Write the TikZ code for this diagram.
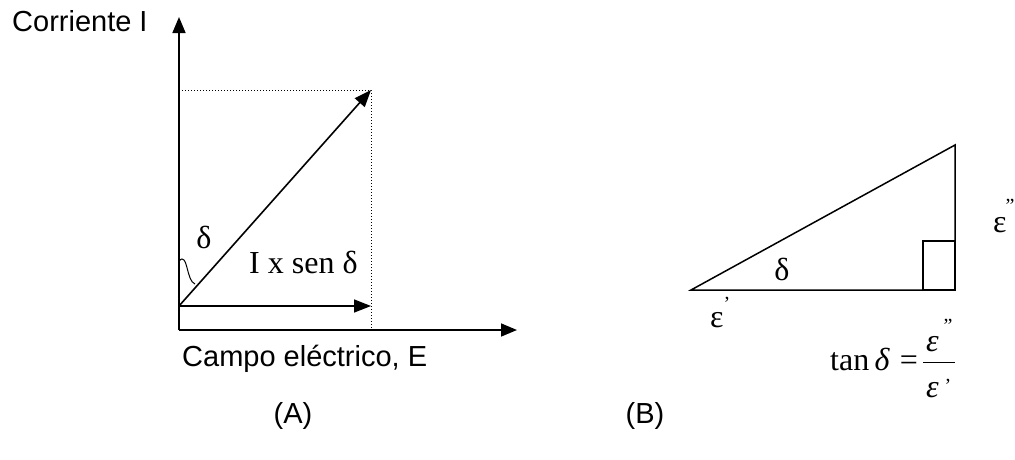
\documentclass[tikz,border=0pt]{standalone}
\usepackage{fontspec}
\setmainfont{Liberation Sans}
\newfontfamily\tnr{Liberation Serif}
\usetikzlibrary{arrows.meta}

\tikzset{
  axis/.style={line width=1.6pt, -{Triangle[length=16pt,width=13pt]}},
  vec/.style={line width=1.6pt, -{Triangle[length=17pt,width=13pt]}},
  guide/.style={line width=1pt, dotted},
  side/.style={line width=1.5pt},
  sanslabel/.style={font=\fontsize{29}{34}\selectfont, inner sep=0pt},
  serlabel/.style={font=\tnr\fontsize{32}{38}\selectfont, inner sep=0pt},
  marks/.style={font=\tnr\fontsize{20}{20}\selectfont, inner sep=0pt}
}

\begin{document}
\begin{tikzpicture}[x=1pt, y=-1pt]

\useasboundingbox (0,0) rectangle (1015,459);

%
% Panel (A)
%

% Axes
\coordinate (corner) at (179,330);
\coordinate (itip) at (179,17);
\coordinate (etip) at (517,330);
\draw[axis] (corner) -- (itip);
\draw[axis] (corner) -- (etip);

\path 
(12,31) node [sanslabel, anchor=base west] (ilabel) {Corriente I};
\path 
(182,366) node [sanslabel, anchor=base west] (elabel) {Campo eléctrico, E};

% Current vector and its projection
\coordinate (orig) at (179,306);
\coordinate (itot) at (371,90);
\coordinate (iproj) at (371,306);
\coordinate (itop) at (179,90);
\coordinate (ibot) at (371,330);

\draw[guide] (itop) -- (itot) -- (ibot);
\draw[vec] (orig) -- (itot);
\draw[vec] (orig) -- (iproj);

% Angle mark
\draw[line width=1pt] (179,261) .. controls (188,251) and (186,281) .. (195,284);

\path 
(204,248) node [serlabel, anchor=base] (dleft) {δ};
\path 
(249,273) node [serlabel, anchor=base west] (proj) {I x sen δ};

\path 
(293,423) node [sanslabel, anchor=base] (capa) {(A)};

%
% Panel (B)
%

\coordinate (tl) at (691,290);
\coordinate (tr) at (955,290);
\coordinate (tt) at (955,145);

\draw[side] (tl) -- (tr) -- (tt) -- cycle;
\draw[side] (923,290) rectangle (955,241);

\path 
(782,280) node [serlabel, anchor=base] (dtri) {δ};

% Loss factors
\path 
(710,327) node [serlabel, anchor=base west] (epsone) {ε};
\path 
(727,310) node [marks, anchor=base] (primeone) {’};
\path 
(993,232) node [serlabel, anchor=base west] (epstwo) {ε};
\path 
(1010,212) node [marks, anchor=base] (primetwo) {”};

% Loss tangent
\path 
(830,370) node [serlabel, anchor=base west] (tanl) {tan\,\textit{δ}\hspace{10pt}=};
\draw[line width=1pt] (923,362) -- (955,362);
\path 
(926,351) node [serlabel, anchor=base west] (num) {\textit{ε}};
\path 
(948,332) node [marks, anchor=base] (numprime) {”};
\path 
(926,397) node [serlabel, anchor=base west] (den) {\textit{ε}};
\path 
(948,392) node [marks, anchor=base] (denprime) {’};

\path 
(645,423) node [sanslabel, anchor=base] (capb) {(B)};

\end{tikzpicture}
\end{document}
